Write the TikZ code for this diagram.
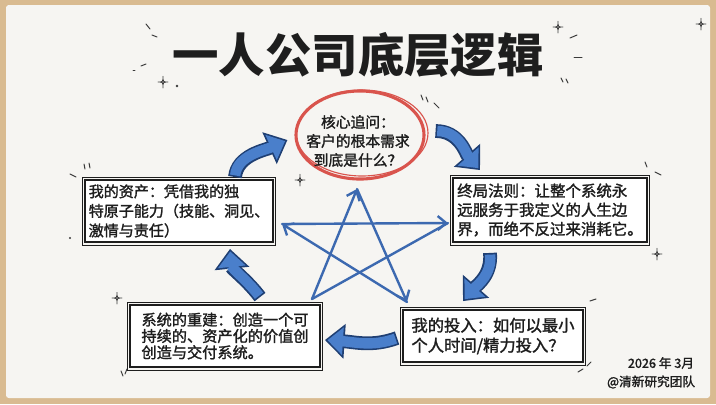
\documentclass[tikz,border=0pt]{standalone}
\usepackage{fontspec}
\setmainfont{Noto Sans CJK SC}
\newfontfamily\inkfont[FakeBold=1.6]{Noto Sans CJK SC}
\usetikzlibrary{arrows.meta,shapes.geometric,positioning}

\definecolor{woodtan}{HTML}{D9BB91}
\definecolor{boardwhite}{HTML}{F6F5F2}
\definecolor{inkblack}{HTML}{1E1E1E}
\definecolor{inkgray}{HTML}{3A3A3A}
\definecolor{coralred}{HTML}{D9544D}
\definecolor{flowblue}{HTML}{4A7FCB}
\definecolor{flowdark}{HTML}{1F3F73}
\definecolor{starblue}{HTML}{3C69B0}

\tikzset{
  sparkle/.pic={
    \draw[inkgray, line width=0.6pt, line join=round]
      (0,-6) .. controls (0,0) .. (5,0) .. controls (0,0) .. (0,6)
      .. controls (0,0) .. (-5,0) .. controls (0,0) .. (0,-6);
  }
}

\begin{document}
\begin{tikzpicture}[x=0.025cm, y=-0.025cm,
  notebox/.style={draw=inkblack, line width=1.3pt, fill=white, align=left,
    inner sep=2pt, text=inkblack},
  flow/.style={draw=flowblue, line width=7.4pt,
    -{Triangle[length=11pt,width=19pt]}, shorten >=1.8pt, shorten <=1.2pt,
    preaction={draw=flowdark, line width=9.8pt,
      -{Triangle[length=14pt,width=24pt]}, shorten >=0pt, shorten <=0pt}},
  starline/.style={draw=starblue, line width=1.7pt, line cap=round, line join=round},
  starhead/.style={starline, -{Straight Barb[length=6pt,width=10pt]}},
  doodle/.style={draw=inkgray, line width=0.7pt, line cap=round}]

  % board and frame
  \fill[woodtan] (0,0) rectangle (716,404);
  \fill[boardwhite, rounded corners=2pt] (6,5) rectangle (710,398);
  \useasboundingbox (0,0) rectangle (716,404);

  % title
  \node[font=\fontsize{33}{33}\selectfont\bfseries, text=inkblack] (title) at (358,55) {一人公司底层逻辑};

  % core question
  \node[ellipse, draw=coralred, line width=2.2pt, minimum width=3.2cm, minimum height=2.2cm] (core) at (360,135) {};
  \draw[coralred, line width=0.8pt] ([shift={(2,-2)}]core.center) ellipse [x radius=66, y radius=43];
  \node[align=center, text=inkblack, font=\inkfont\fontsize{10.5}{13.5}\selectfont] (question) at (358,141)
    {核心追问：\\客户的根本需求\\到底是什么？};

  % four boxes
  \node[notebox, minimum width=4.7cm, minimum height=1.55cm, font=\inkfont\fontsize{10.7}{13.9}\selectfont] (asset) at (179,211)
    {我的资产：凭借我的独\\特原子能力（技能、洞见、\\激情与责任）};
  \node[notebox, minimum width=4.85cm, minimum height=1.6cm, font=\inkfont\fontsize{11}{13.6}\selectfont] (endgame) at (550,210)
    {终局法则：让整个系统永\\远服务于我定义的人生边\\界，而绝不反过来消耗它。};
  \node[notebox, minimum width=4.75cm, minimum height=1.55cm, font=\inkfont\fontsize{10.8}{11.6}\selectfont] (rebuild) at (225,336)
    {系统的重建：创造一个可\\持续的、资产化的价值创\\创造与交付系统。};
  \node[notebox, minimum width=4.5cm, minimum height=1.3cm, font=\inkfont\fontsize{11.6}{14.2}\selectfont] (input) at (493,336)
    {我的投入：如何以最小\\个人时间/精力投入？};
  \foreach \b in {asset,endgame,rebuild,input}
    \draw[inkblack, line width=0.5pt] ([shift={(-2,-1.5)}]\b.north west) rectangle ([shift={(1.5,2)}]\b.south east);

  % cycle arrows
  \draw[flow] ([shift={(56,-2)}]asset.north) .. controls +(2,-22) and +(-22,10) .. ([shift={(-7,5)}]core.west);
  \draw[flow] ([shift={(10,-4)}]core.east) .. controls +(24,0) and +(-14,-16) .. ([shift={(-70,-7)}]endgame.north);
  \draw[flow] ([shift={(-60,10)}]endgame.south) .. controls +(2,22) and +(14,-16) .. ([shift={(-30,-8)}]input.north);
  \draw[flow] ([shift={(-5,2)}]input.west) .. controls +(-25,9) and +(30,2) .. ([shift={(4,4)}]rebuild.east);
  \draw[flow] ([shift={(35,-7)}]rebuild.north) .. controls +(-12,-16) and +(2,20) .. ([shift={(51,6)}]asset.south);

  % pentagram
  \coordinate (sT) at (357,189);
  \coordinate (sL) at (282,224);
  \coordinate (sR) at (448,223);
  \coordinate (sBL) at (312,299);
  \coordinate (sBR) at (407,302);
  \draw[starhead] (sBL) -- (sT);
  \draw[starhead] (sT) -- (sBR);
  \draw[starhead] (sBR) -- (sL);
  \draw[starhead] (sL) -- (sR);
  \draw[starline] (sR) -- (sBL);

  % footer
  \node[anchor=east, text=inkblack, font=\inkfont\fontsize{9}{9}\selectfont] (date) at (699,363) {2026 年 3月};
  \node[anchor=east, text=inkblack, font=\inkfont\fontsize{9}{9}\selectfont] (team) at (700,382) {@清新研究团队};

  % doodles
  \pic at (163,82) {sparkle};
  \pic at (558,27) {sparkle};
  \pic at (701,24) {sparkle};
  \pic at (300,180) {sparkle};
  \pic at (657,254) {sparkle};
  \pic at (117,298) {sparkle};
  \fill[inkgray] (177,86) circle [radius=1.3];
  \fill[inkgray] (70,238) circle [radius=1.2];
  \foreach \xa/\ya/\xb/\yb in {146/24/150/29, 152/35/157/37, 141/66/146/64, 133/70/135/70,
      570/38/577/35, 574/57/582/57, 561/78/563/82, 566/79/568/83,
      421/95/423/100, 426/97/428/102, 434/103/439/108,
      70/174/76/177, 84/164/85/169, 89/163/90/168,
      645/162/647/167, 655/172/661/175,
      590/301/596/299, 578/372/583/369, 587/366/591/362,
      121/371/123/376, 127/369/125/374}
    \draw[doodle] (\xa,\ya) -- (\xb,\yb);
\end{tikzpicture}
\end{document}
